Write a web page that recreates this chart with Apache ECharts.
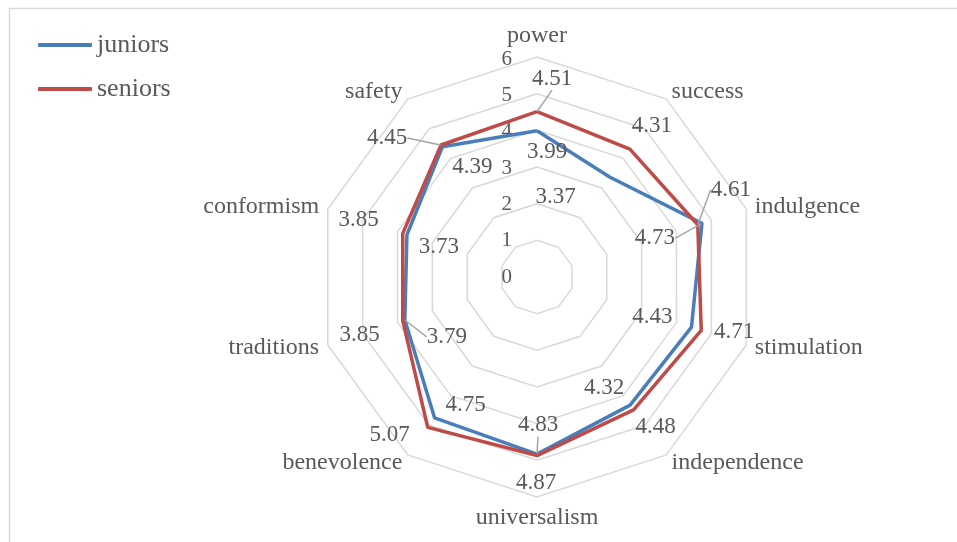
<!DOCTYPE html>
<html>
<head>
<meta charset="utf-8">
<script src="https://cdn.jsdelivr.net/npm/echarts@6/dist/echarts.min.js"></script>
<style>
html,body{margin:0;padding:0;background:#fff;}
#chart{width:957px;height:542px;}
</style>
</head>
<body>
<div id="chart"></div>
<script>
// ---- data ----
const categories = ['power','success','indulgence','stimulation','independence','universalism','benevolence','traditions','conformism','safety'];
const juniors = [3.99, 3.37, 4.73, 4.43, 4.32, 4.83, 4.75, 3.79, 3.73, 4.39];
const seniors = [4.51, 4.31, 4.61, 4.71, 4.48, 4.87, 5.07, 3.85, 3.85, 4.45];
const seriesNames = ['juniors', 'seniors'];
const axisMin = 0, axisMax = 6, axisStep = 1;

// ---- label placement (style only: offsets of data labels from their points) ----
const juniorOffsets = [[10,21],[-54,20],[-47,15],[-39,-10],[-26,-17],[1,-29],[31,-13],[42,17],[32,12],[30,20]];
const seniorOffsets = [[15,-33],[22,-23],[33,-35],[33,2],[22,17],[-1,27],[-38,8],[-43,14],[-44,-13],[-54,-7]];
const juniorLeader = [false,false,true,false,false,true,false,true,false,false];
const seniorLeader = [true,false,true,false,false,false,false,false,false,true];

const FONT = "'Liberation Serif', 'Times New Roman', serif";
const TXT = '#595959';
const BLUE = '#4a7ebb';
const RED = '#be4b48';
const CX = 537, CY = 277, R = 220;

// ECharts radar lays indicators counter-clockwise; the reference runs clockwise.
const order = categories.map((_, i) => (categories.length - i) % categories.length);
const cw = arr => order.map(i => arr[i]);

function labelSeries(values, offsets, leaders) {
  return {
    type: 'scatter',
    coordinateSystem: 'polar',
    symbolSize: 1,
    itemStyle: { color: '#ffffff', opacity: 0 },
    silent: true,
    z: 5,
    data: values.map((v, i) => ({
      value: [v, categories[i]],
      labelLine: { show: leaders[i] }
    })),
    label: {
      show: true,
      position: 'inside',
      formatter: p => p.value[0].toFixed(2),
      fontFamily: FONT,
      fontSize: 23,
      color: TXT,
      opacity: 1,
      textBorderWidth: 0,
      textBorderColor: 'transparent'
    },
    labelLine: { show: false, lineStyle: { color: '#a6a6a6', width: 1.5, opacity: 1 } },
    labelLayout: p => ({ dx: offsets[p.dataIndex][0], dy: offsets[p.dataIndex][1] })
  };
}

const chart = echarts.init(document.getElementById('chart'), null, { renderer: 'canvas' });
chart.setOption({
  backgroundColor: '#ffffff',
  animation: false,
  textStyle: { fontFamily: FONT, color: TXT },
  graphic: [{
    type: 'rect',
    shape: { x: 9.5, y: 8.5, width: 3000, height: 3000 },
    style: { fill: 'none', stroke: '#d9d9d9', lineWidth: 1.5 },
    silent: true, z: -10
  }],
  legend: {
    data: seriesNames,
    orient: 'vertical',
    left: 38,
    top: 32,
    padding: 0,
    itemWidth: 54,
    itemHeight: 4,
    itemGap: 18,
    icon: 'roundRect',
    textStyle: { fontFamily: FONT, fontSize: 26, color: TXT }
  },
  radar: {
    center: [CX, CY],
    radius: R,
    startAngle: 90,
    shape: 'polygon',
    splitNumber: (axisMax - axisMin) / axisStep,
    indicator: cw(categories).map(c => ({ name: c, min: axisMin, max: axisMax })),
    axisName: { color: TXT, fontFamily: FONT, fontSize: 24 },
    nameGap: 9,
    axisLine: { show: false },
    axisTick: { show: false },
    splitArea: { show: false },
    splitLine: { lineStyle: { color: '#d9d9d9', width: 1.5 } }
  },
  polar: { center: [CX, CY], radius: R },
  angleAxis: {
    type: 'category',
    data: categories,
    startAngle: 90,
    clockwise: true,
    boundaryGap: false,
    show: false
  },
  radiusAxis: { type: 'value', min: axisMin, max: axisMax, show: false },
  grid: { left: CX, top: CY - R + 2, width: 1, height: R - 2 },
  xAxis: { type: 'value', show: false },
  yAxis: {
    type: 'value',
    min: axisMin, max: axisMax, interval: axisStep,
    axisLine: { show: false },
    axisTick: { show: false },
    splitLine: { show: false },
    axisLabel: { margin: 25, fontFamily: FONT, fontSize: 21, color: TXT }
  },
  series: [
    {
      type: 'radar',
      symbol: 'none',
      z: 3,
      data: [
        { name: seriesNames[0], value: cw(juniors), lineStyle: { color: BLUE, width: 3.5 }, itemStyle: { color: BLUE } },
        { name: seriesNames[1], value: cw(seniors), lineStyle: { color: RED, width: 3.5 }, itemStyle: { color: RED } }
      ]
    },
    labelSeries(juniors, juniorOffsets, juniorLeader),
    labelSeries(seniors, seniorOffsets, seniorLeader)
  ]
});
</script>
</body>
</html>
